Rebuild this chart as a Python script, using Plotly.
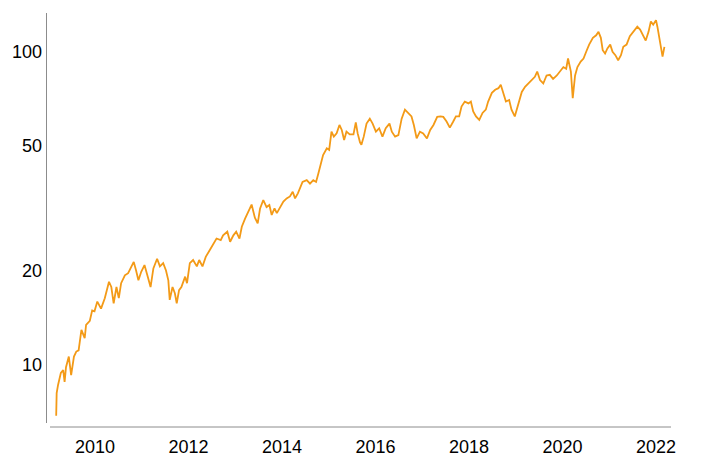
import pandas as pd
import plotly.graph_objects as go

# Time (decimal years) and values
years = [2009.17, 2009.18, 2009.21, 2009.27, 2009.32, 2009.35, 2009.38, 2009.44, 2009.49, 2009.55,
         2009.60, 2009.65, 2009.71, 2009.78, 2009.81, 2009.89, 2009.94, 2009.99, 2010.05, 2010.13,
         2010.21, 2010.30, 2010.35, 2010.40, 2010.46, 2010.51, 2010.56, 2010.64, 2010.71, 2010.78,
         2010.83, 2010.88, 2010.93, 2010.99, 2011.06, 2011.13, 2011.19, 2011.25, 2011.33, 2011.39,
         2011.46, 2011.52, 2011.57, 2011.60, 2011.66, 2011.71, 2011.75, 2011.80, 2011.85, 2011.93,
         2011.97, 2012.03, 2012.10, 2012.18, 2012.23, 2012.30, 2012.37, 2012.46, 2012.53, 2012.60,
         2012.69, 2012.74, 2012.83, 2012.89, 2012.96, 2013.02, 2013.09, 2013.14, 2013.21, 2013.27,
         2013.35, 2013.42, 2013.48, 2013.53, 2013.60, 2013.67, 2013.73, 2013.78, 2013.84, 2013.89,
         2013.96, 2014.03, 2014.10, 2014.17, 2014.23, 2014.28, 2014.34, 2014.39, 2014.44, 2014.53,
         2014.60, 2014.67, 2014.73, 2014.78, 2014.83, 2014.88, 2014.96, 2015.01, 2015.06, 2015.11,
         2015.17, 2015.23, 2015.28, 2015.33, 2015.38, 2015.45, 2015.53, 2015.58, 2015.62, 2015.67,
         2015.70, 2015.75, 2015.81, 2015.88, 2015.94, 2016.01, 2016.08, 2016.15, 2016.22, 2016.30,
         2016.35, 2016.42, 2016.49, 2016.56, 2016.63, 2016.70, 2016.77, 2016.82, 2016.88, 2016.95,
         2017.02, 2017.10, 2017.17, 2017.24, 2017.32, 2017.39, 2017.45, 2017.52, 2017.59, 2017.66,
         2017.72, 2017.79, 2017.84, 2017.91, 2017.99, 2018.04, 2018.09, 2018.15, 2018.22, 2018.29,
         2018.36, 2018.41, 2018.49, 2018.56, 2018.63, 2018.68, 2018.73, 2018.79, 2018.86, 2018.91,
         2018.98, 2019.05, 2019.13, 2019.20, 2019.27, 2019.34, 2019.41, 2019.46, 2019.52, 2019.59,
         2019.66, 2019.73, 2019.80, 2019.88, 2019.95, 2020.02, 2020.08, 2020.12, 2020.18, 2020.22,
         2020.27, 2020.32, 2020.39, 2020.45, 2020.52, 2020.57, 2020.65, 2020.72, 2020.77, 2020.82,
         2020.86, 2020.91, 2020.96, 2021.02, 2021.07, 2021.13, 2021.19, 2021.25, 2021.30, 2021.37,
         2021.44, 2021.51, 2021.60, 2021.66, 2021.73, 2021.78, 2021.84, 2021.89, 2021.94, 2022.00,
         2022.03, 2022.09, 2022.14, 2022.18]

values = [6.86, 8.1, 8.6, 9.4, 9.6, 8.8, 9.8, 10.6, 9.25, 10.6,
          11.0, 11.1, 12.9, 12.15, 13.4, 13.8, 14.9, 14.8, 15.9, 15.1,
          16.3, 18.4, 17.7, 15.7, 17.7, 16.3, 18.2, 19.3, 19.6, 20.6,
          21.3, 20.0, 18.6, 19.8, 20.8, 19.1, 17.7, 20.3, 21.8, 20.6,
          21.1, 20.0, 18.6, 16.1, 17.7, 16.9, 15.7, 17.3, 17.7, 19.1,
          18.2, 21.1, 21.6, 20.6, 21.6, 20.6, 22.1, 23.3, 24.4, 25.3,
          25.0, 25.9, 26.6, 24.7, 25.9, 26.6, 25.3, 27.6, 29.3, 30.5,
          32.5, 29.5, 28.3, 31.5, 33.6, 31.9, 32.4, 30.1, 31.6, 30.5,
          31.9, 33.2, 34.0, 34.5, 35.7, 34.0, 35.3, 36.6, 38.4, 38.9,
          37.9, 38.9, 38.4, 40.9, 43.5, 46.8, 49.2, 48.6, 55.6, 53.6,
          54.9, 58.4, 56.3, 52.3, 55.6, 54.5, 54.5, 59.5, 54.9, 51.4,
          50.5, 53.6, 59.0, 61.2, 59.0, 55.6, 57.0, 53.6, 57.0, 59.0,
          55.6, 53.6, 54.2, 61.2, 65.4, 63.8, 62.2, 58.4, 52.9, 55.6,
          54.9, 52.9, 56.3, 58.4, 62.0, 62.2, 62.0, 59.9, 57.3, 59.8,
          62.2, 62.2, 66.9, 69.4, 68.5, 69.4, 64.5, 62.2, 60.6, 63.8,
          65.4, 69.4, 74.0, 75.7, 76.6, 78.6, 74.5, 69.4, 70.2, 65.4,
          62.2, 67.6, 74.5, 77.4, 79.3, 81.3, 83.3, 86.6, 81.3, 79.3,
          84.1, 84.5, 82.0, 84.1, 86.6, 89.5, 88.4, 95.3, 86.6, 71.2,
          84.1, 89.5, 93.2, 95.3, 101.3, 105.6, 111.0, 113.1, 116.0, 111.0,
          101.3, 98.9, 102.7, 105.6, 100.2, 97.7, 94.1, 97.7, 103.9, 105.6,
          112.3, 116.0, 120.5, 118.0, 113.1, 108.8, 116.0, 125.2, 122.3, 126.5,
          120.5, 105.6, 96.6, 103.9]

y_tick_vals = [10, 20, 50, 100]
y_tick_text = ["10", "20", "50", "100"]


def to_date(y):
    yr = int(y)
    start = pd.Timestamp(year=yr, month=1, day=1)
    end = pd.Timestamp(year=yr + 1, month=1, day=1)
    return start + (end - start) * (y - yr)


dates = [to_date(y) for y in years]

LINE_COLOR = "#F39A17"
AXIS_COLOR = "#8C8C8C"
FONT = "Liberation Sans, Arial, sans-serif"

fig = go.Figure()
fig.add_trace(go.Scatter(
    x=dates, y=values, mode="lines",
    line=dict(color=LINE_COLOR, width=1.8),
    hoverinfo="skip", showlegend=False,
))

W, H = 707, 458
L, R, T, B = 46, 36, 13, 31
PW, PH = W - L - R, H - T - B

fig.update_layout(
    width=W, height=H,
    margin=dict(l=L, r=R, t=T, b=B, pad=0, autoexpand=False),
    paper_bgcolor="white", plot_bgcolor="white",
    font=dict(family=FONT, size=18, color="#000000"),
    showlegend=False,
    xaxis=dict(
        type="date",
        range=[to_date(2008.952), to_date(2022.321)],
        tick0="2010-01-01", dtick="M24", tickformat="%Y",
        showgrid=False, zeroline=False, showline=False,
        ticks="", ticklen=0, ticklabelstandoff=7, automargin=False,
        tickfont=dict(family=FONT, size=18, color="#000000"),
    ),
    yaxis=dict(
        type="log",
        range=[0.8, 2.1248],
        tickvals=y_tick_vals, ticktext=y_tick_text,
        showgrid=False, zeroline=False, showline=False,
        ticks="", ticklen=0, ticklabelstandoff=3, automargin=False,
        tickfont=dict(family=FONT, size=18, color="#000000"),
    ),
    shapes=[
        dict(type="line", xref="paper", yref="paper",
             x0=0.5 / PW, x1=0.5 / PW, y0=4 / PH, y1=1.0,
             line=dict(color=AXIS_COLOR, width=1)),
        dict(type="line", xref="paper", yref="paper",
             x0=4 / PW, x1=1.0, y0=0.0, y1=0.0,
             line=dict(color=AXIS_COLOR, width=1)),
    ],
)

fig.write_html(
    "out.html",
    config={"displayModeBar": False, "staticPlot": True},
    post_script="document.body.style.margin='0';document.body.style.padding='0';",
)
